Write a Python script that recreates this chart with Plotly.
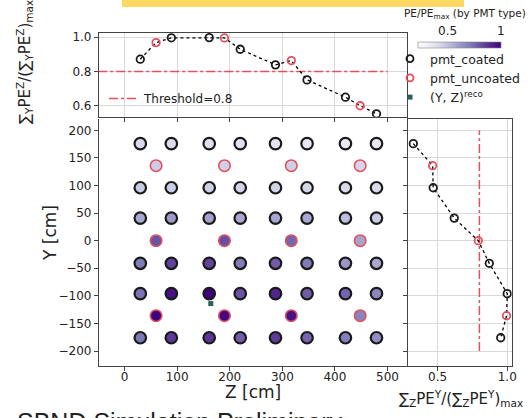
import plotly.graph_objects as go

W, H = 530, 418

# ---------------- data ----------------
Z_COATED = [30, 89, 161, 220, 287, 347, 420, 479]
Y_COATED = [176, 96, 41, -41, -96, -176]
PE_COATED = [
    [0.42, 0.41, 0.39, 0.38, 0.37, 0.35, 0.34, 0.35],
    [0.47, 0.46, 0.45, 0.44, 0.44, 0.43, 0.42, 0.42],
    [0.57, 0.61, 0.59, 0.57, 0.58, 0.57, 0.51, 0.47],
    [0.71, 0.84, 0.84, 0.71, 0.78, 0.71, 0.62, 0.57],
    [0.73, 0.96, 1.00, 0.80, 0.91, 0.78, 0.76, 0.67],
    [0.72, 0.86, 0.87, 0.78, 0.86, 0.76, 0.70, 0.65],
]
Z_UNCOATED = [60, 190, 317, 448]
Y_UNCOATED = [136, 0, -136]
PE_UNCOATED = [
    [0.46, 0.45, 0.45, 0.43],
    [0.80, 0.81, 0.76, 0.58],
    [1.00, 0.98, 0.96, 0.68],
]
RECO_Z = [164]
RECO_Y = [-114]

PROFILE_Z = [30, 60, 89, 161, 190, 220, 287, 317, 347, 420, 448, 479]
PROFILE_Z_RATIO = [0.872, 0.969, 0.997, 0.998, 0.996, 0.930, 0.839, 0.864, 0.751, 0.650, 0.600, 0.553]
PROFILE_Z_TYPE = ["c", "u", "c", "c", "u", "c", "c", "u", "c", "c", "u", "c"]

PROFILE_Y = [176, 136, 96, 41, 0, -41, -96, -136, -176]
PROFILE_Y_RATIO = [0.325, 0.464, 0.468, 0.619, 0.792, 0.871, 1.000, 0.995, 0.953]
PROFILE_Y_TYPE = ["c", "u", "c", "c", "u", "c", "c", "u", "c"]

THRESHOLD = 0.8
THRESH_Z_SPAN = [-50, 500]
THRESH_Y_SPAN = [-200, 200]

Z_TICKS = [0, 100, 200, 300, 400, 500]
Y_TICKS = [200, 150, 100, 50, 0, -50, -100, -150, -200]
TOP_TICKS = [0.6, 0.8, 1.0]
RIGHT_TICKS = [0.5, 1.0]
CB_TICKS = [0.5, 1]
CMIN, CMAX = 0.22, 1.0

# ---------------- style ----------------
FONT = "DejaVu Sans"
RED = "#e0505e"
EDGE = "#1a1a1a"
AXC = "#444444"
GRID = "#d9d9d9"


def px_x(p):
    return p / W


def px_y(p):
    return 1 - p / H


fig = go.Figure()

# main panel
zc, yc, vc = [], [], []
for j, yv in enumerate(Y_COATED):
    for i, zv in enumerate(Z_COATED):
        zc.append(zv)
        yc.append(yv)
        vc.append(PE_COATED[j][i])
zu, yu, vu = [], [], []
for j, yv in enumerate(Y_UNCOATED):
    for i, zv in enumerate(Z_UNCOATED):
        zu.append(zv)
        yu.append(yv)
        vu.append(PE_UNCOATED[j][i])

fig.add_trace(go.Scatter(x=zc, y=yc, mode="markers", showlegend=False,
                         marker=dict(size=11.5, color=vc, coloraxis="coloraxis",
                                     line=dict(color=EDGE, width=2.2)),
                         xaxis="x", yaxis="y"))
fig.add_trace(go.Scatter(x=zu, y=yu, mode="markers", showlegend=False,
                         marker=dict(size=11.5, color=vu, coloraxis="coloraxis",
                                     line=dict(color=RED, width=1.6)),
                         xaxis="x", yaxis="y"))
fig.add_trace(go.Scatter(x=RECO_Z, y=RECO_Y, mode="markers", showlegend=False,
                         marker=dict(size=5, symbol="square", color="#2f5f58"),
                         xaxis="x", yaxis="y"))

# top panel
fig.add_trace(go.Scatter(x=THRESH_Z_SPAN, y=[THRESHOLD, THRESHOLD], mode="lines",
                         line=dict(color=RED, width=1.5, dash="dashdot"),
                         name="Threshold=0.8", legend="legend2",
                         xaxis="x2", yaxis="y2"))
fig.add_trace(go.Scatter(x=PROFILE_Z, y=PROFILE_Z_RATIO, mode="lines", showlegend=False,
                         line=dict(color="black", width=1.3, dash="dot"),
                         xaxis="x2", yaxis="y2"))
for t, col in (("c", EDGE), ("u", RED)):
    xs = [z for z, k in zip(PROFILE_Z, PROFILE_Z_TYPE) if k == t]
    ys = [r for r, k in zip(PROFILE_Z_RATIO, PROFILE_Z_TYPE) if k == t]
    fig.add_trace(go.Scatter(x=xs, y=ys, mode="markers", showlegend=False,
                             marker=dict(size=7.5, symbol="circle-open", color=col,
                                         line=dict(width=1.8)),
                             xaxis="x2", yaxis="y2"))

# right panel
fig.add_trace(go.Scatter(x=[THRESHOLD, THRESHOLD], y=THRESH_Y_SPAN, mode="lines",
                         showlegend=False,
                         line=dict(color=RED, width=1.5, dash="dashdot"),
                         xaxis="x3", yaxis="y3"))
fig.add_trace(go.Scatter(x=PROFILE_Y_RATIO, y=PROFILE_Y, mode="lines", showlegend=False,
                         line=dict(color="black", width=1.3, dash="dot"),
                         xaxis="x3", yaxis="y3"))
for t, col in (("c", EDGE), ("u", RED)):
    xs = [r for r, k in zip(PROFILE_Y_RATIO, PROFILE_Y_TYPE) if k == t]
    ys = [y for y, k in zip(PROFILE_Y, PROFILE_Y_TYPE) if k == t]
    fig.add_trace(go.Scatter(x=xs, y=ys, mode="markers", showlegend=False,
                             marker=dict(size=7.5, symbol="circle-open", color=col,
                                         line=dict(width=1.8)),
                             xaxis="x3", yaxis="y3"))

# legend entries
fig.add_trace(go.Scatter(x=[None], y=[None], mode="markers", name="pmt_coated",
                         marker=dict(size=7, symbol="circle-open", color=EDGE, line=dict(width=1.8)),
                         xaxis="x", yaxis="y"))
fig.add_trace(go.Scatter(x=[None], y=[None], mode="markers", name="pmt_uncoated",
                         marker=dict(size=7, symbol="circle-open", color=RED, line=dict(width=1.8)),
                         xaxis="x", yaxis="y"))
fig.add_trace(go.Scatter(x=[None], y=[None], mode="markers", name="(Y, Z)<sup>reco</sup>",
                         marker=dict(size=5, symbol="square", color="#2f5f58"),
                         xaxis="x", yaxis="y"))

MAIN_X = [px_x(99), px_x(407)]
MAIN_Y = [px_y(366), px_y(118.5)]
TOP_Y = [px_y(116.7), px_y(33)]
RIGHT_X = [px_x(408.3), px_x(511.7)]

tickfont = dict(family=FONT, size=12, color="#222")
common = dict(showline=True, linecolor=AXC, linewidth=1.2, ticks="outside",
              ticklen=4, tickcolor=AXC, zeroline=False, tickfont=tickfont)

fig.update_layout(
    width=W, height=H,
    margin=dict(l=0, r=0, t=0, b=0, autoexpand=False),
    paper_bgcolor="white", plot_bgcolor="white",
    font=dict(family=FONT, size=12, color="#222"),
    xaxis=dict(domain=MAIN_X, range=[-48.5, 537], tickvals=Z_TICKS, showgrid=False,
               anchor="y", ticklabelstandoff=-5, **common),
    yaxis=dict(domain=MAIN_Y, range=[-227.2, 221.6], tickvals=Y_TICKS, showgrid=False,
               anchor="x", **common),
    xaxis2=dict(domain=MAIN_X, matches="x", tickvals=Z_TICKS, showticklabels=False,
                showgrid=True, gridcolor=GRID, gridwidth=0.8, mirror=True, anchor="y2",
                **common),
    yaxis2=dict(domain=TOP_Y, range=[0.536, 1.025], tickvals=TOP_TICKS,
                tickformat=".1f", showgrid=True, gridcolor=GRID, gridwidth=0.8,
                mirror=True, anchor="x2", **common),
    xaxis3=dict(domain=RIGHT_X, range=[0.289, 1.032], tickvals=RIGHT_TICKS,
                tickformat=".1f", showgrid=True, gridcolor=GRID, gridwidth=0.8,
                mirror=True, anchor="y3", ticklabelstandoff=-5, **common),
    yaxis3=dict(domain=MAIN_Y, matches="y", tickvals=Y_TICKS, showticklabels=False,
                showgrid=True, gridcolor=GRID, gridwidth=0.8, mirror=True, anchor="x3",
                **common),
    coloraxis=dict(colorscale="Purples", cmin=CMIN, cmax=CMAX,
                   colorbar=dict(orientation="h", x=px_x(418), xanchor="left",
                                 y=px_y(41.5), yanchor="top", lenmode="pixels", len=83,
                                 thickness=6, xpad=0, ypad=0, showticklabels=False,
                                 ticks="", outlinewidth=0.6, outlinecolor="#888")),
    legend=dict(x=px_x(390), y=px_y(44), xanchor="left", yanchor="top",
                bgcolor="rgba(0,0,0,0)", font=dict(family=FONT, size=12.5, color="#222"),
                tracegroupgap=0),
    legend2=dict(x=px_x(104), y=px_y(84), xanchor="left", yanchor="top",
                 bgcolor="rgba(0,0,0,0)", font=dict(family=FONT, size=12, color="#222")),
)

# yellow banner at the top
fig.add_shape(type="rect", xref="paper", yref="paper", x0=px_x(122), x1=px_x(464),
              y0=px_y(7), y1=1.0, fillcolor="#fdd863", line=dict(width=0), layer="above")

ann = []
ann.append(dict(text="∑<sub>Y</sub>PE<sup>Z</sup>/(∑<sub>Y</sub>PE<sup>Z</sup>)<sub>max</sub>",
                x=px_x(24), y=px_y(62), textangle=-90, font=dict(size=15)))
ann.append(dict(text="Y [cm]", x=px_x(50), y=px_y(233), textangle=-90, font=dict(size=17)))
ann.append(dict(text="Z [cm]", x=px_x(253), y=px_y(392), font=dict(size=17)))
ann.append(dict(text="∑<sub>Z</sub>PE<sup>Y</sup>/(∑<sub>Z</sub>PE<sup>Y</sup>)<sub>max</sub>",
                x=px_x(461), y=px_y(398), font=dict(size=15)))
ann.append(dict(text="PE/PE<sub>max</sub> (by PMT type)", x=px_x(465), y=px_y(14),
                font=dict(size=10.5)))
cb_left, cb_len = 418, 83
for v in CB_TICKS:
    xp = cb_left + (v - CMIN) / (CMAX - CMIN) * cb_len
    ann.append(dict(text=str(v), x=px_x(xp), y=px_y(31), font=dict(size=12)))
ann.append(dict(text="SBND Simulation Preliminary", x=px_x(15), y=px_y(406),
                xanchor="left", yanchor="top", font=dict(size=25, family="Liberation Sans")))
for a in ann:
    a.setdefault("xanchor", "center")
    a.setdefault("yanchor", "middle")
    a.update(xref="paper", yref="paper", showarrow=False)
    a["font"].setdefault("family", FONT)
    a["font"].setdefault("color", "#222")
fig.update_layout(annotations=ann)

fig.write_html("out.html", config={"displayModeBar": False},
               post_script="document.body.style.margin='0';")
